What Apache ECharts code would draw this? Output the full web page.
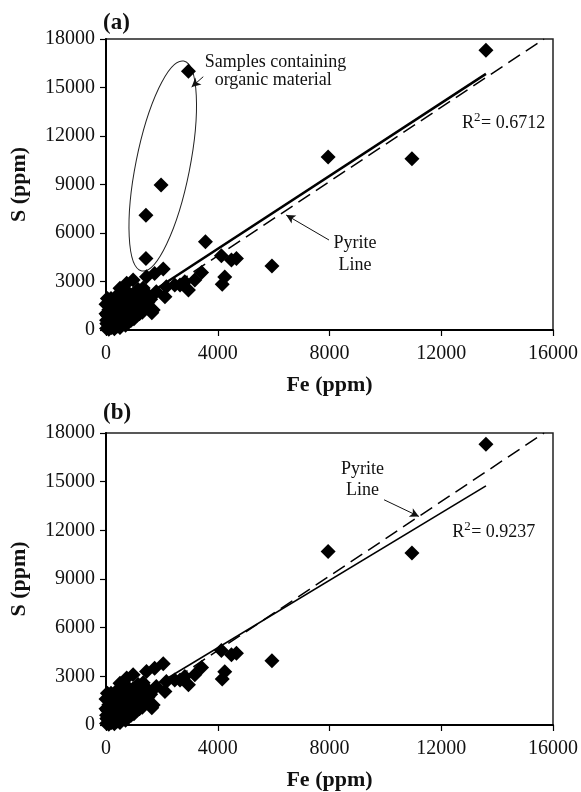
<!DOCTYPE html>
<html><head><meta charset="utf-8">
<script src="https://cdn.jsdelivr.net/npm/echarts/dist/echarts.min.js"></script>
<style>html,body{margin:0;padding:0;background:#fff}#c{width:581px;height:792px}</style>
</head><body><div id="c"></div><script>
// ---------- data (Fe ppm, S ppm) ----------
const mainPoints = [
  [13600,17300],[7950,10700],[10950,10600],[5940,3960],
  [4130,4600],[4490,4330],[4670,4420],[4250,3280],[4160,2830],
  [3420,3550],[3180,3100],[2950,2480],[2820,2990],[2650,2780],[2460,2780],[2160,2680],[2110,2060],
  [2050,3780],[1740,3500],[1450,3300],[1640,1070],[1800,2370],[1450,2270],[1690,1240],[1330,1240],
  [1090,1650],[970,3090],[740,2890],[500,2580],[860,1860],[680,1440],[1330,2600],
  [20,100],[60,350],[100,650],[150,200],[200,900],[250,450],[300,1200],[350,250],[400,750],
  [450,1050],[500,400],[550,850],[600,1300],[650,600],[700,1000],[750,1550],[800,800],[850,1200],
  [900,1650],[950,950],[1000,1400],[1050,1100],[1100,1950],[1150,1350],[1200,1600],[20,600],
  [50,900],[100,1250],[140,1550],[180,1950],[250,1350],[300,1650],[350,2050],[400,1450],[450,1800],
  [550,2250],[600,1900],[650,2450],[700,2150],[800,2300],[30,400],[100,50],[200,150],[300,80],
  [400,250],[500,150],[600,350],[700,300],[800,500],[900,600],[1000,700],[1100,900],[1200,1000],
  [1300,1100],[1400,1500],[1500,1700],[1600,1900],[1250,1850],[950,2200],[1150,2500],[0,1000],
  [0,1600],[50,1950]
];
const organicPoints = [[2950,16000],[1970,8970],[1430,7100],[1430,4430],[3560,5460]];
const fitLineA = [[0,515],[13600,15840]];
const fitLineB = [[0,600],[13600,14740]];
const pyriteLine = [[0,0],[15680,18000]];
const xTicks = {min:0, max:16000, interval:4000};
const yTicks = {min:0, max:18000, interval:3000};
const r2A = '0.6712', r2B = '0.9237';

// ---------- chart ----------
const FONT = "'Liberation Serif','Times New Roman',serif";
const chart = echarts.init(document.getElementById('c'), null, {renderer:'canvas'});
const grids = [
  {left:104, right:28, top:39, height:291, show:true, borderColor:'#222', borderWidth:1.5},
  {left:104, right:28, top:433, height:293, show:true, borderColor:'#222', borderWidth:1.5}
];
const plain = v => String(v);
function xAxis(i){return {gridIndex:i,type:'value',min:xTicks.min,max:xTicks.max,interval:xTicks.interval,
  name:'Fe (ppm)',nameLocation:'middle',nameGap:44,
  nameTextStyle:{fontFamily:FONT,fontWeight:'bold',fontSize:22,color:'#111'},
  axisLine:{lineStyle:{color:'#000',width:2}},axisTick:{inside:false,length:6,lineStyle:{color:'#000',width:1.2}},
  axisLabel:{fontFamily:FONT,fontSize:20,color:'#111',margin:14,formatter:plain},splitLine:{show:false}};}
function yAxis(i){return {gridIndex:i,type:'value',min:yTicks.min,max:yTicks.max,interval:yTicks.interval,
  name:'S (ppm)',nameLocation:'middle',nameGap:76,nameRotate:90,
  nameTextStyle:{fontFamily:FONT,fontWeight:'bold',fontSize:22,color:'#111'},
  axisLine:{lineStyle:{color:'#000',width:2}},axisTick:{inside:false,length:6,lineStyle:{color:'#000',width:1.2}},
  axisLabel:{fontFamily:FONT,fontSize:20,color:'#111',margin:11,formatter:plain},splitLine:{show:false}};}
const arrowLine = (a,b)=>[{coord:a},{coord:b}];
const mk = (data)=>({silent:true,symbol:['none','arrow'],symbolSize:[7,9],animation:false,
  lineStyle:{color:'#111',width:1,type:'solid'},label:{show:false},emphasis:{disabled:true},data:data});
const diamond = {symbol:'diamond',symbolSize:15,itemStyle:{color:'#000',opacity:1},silent:true,animation:false};

chart.setOption({
  animation:false,
  grid:grids,
  xAxis:[xAxis(0),xAxis(1)],
  yAxis:[yAxis(0),yAxis(1)],
  series:[
    Object.assign({type:'scatter',xAxisIndex:0,yAxisIndex:0,data:mainPoints.concat(organicPoints),
      markLine:mk([arrowLine([3481,15668],[3065,15031]),arrowLine([7982,5567],[6450,7113])])},diamond),
    {type:'line',xAxisIndex:0,yAxisIndex:0,data:fitLineA,symbol:'none',lineStyle:{color:'#000',width:2.5},silent:true},
    {type:'line',xAxisIndex:0,yAxisIndex:0,data:pyriteLine,symbol:'none',lineStyle:{color:'#000',width:1.5,type:[14,7]},silent:true},
    Object.assign({type:'scatter',xAxisIndex:1,yAxisIndex:1,data:mainPoints,
      markLine:mk([arrowLine([9953,13884],[11200,12858])])},diamond),
    {type:'line',xAxisIndex:1,yAxisIndex:1,data:fitLineB,symbol:'none',lineStyle:{color:'#000',width:1.6},silent:true},
    {type:'line',xAxisIndex:1,yAxisIndex:1,data:pyriteLine,symbol:'none',lineStyle:{color:'#000',width:1.5,type:[14,7]},silent:true}
  ]
});

const px = (g,pt)=>chart.convertToPixel({gridIndex:g},pt);
const txt = (pos,text,opts)=>({type:'text',x:pos[0],y:pos[1],silent:true,
  style:Object.assign({text:text,fontFamily:FONT,fontSize:18,fill:'#111',align:'center',verticalAlign:'middle'},opts||{})});
const r2 = (pos,val)=>[
  {type:'text',x:pos[0],y:pos[1],silent:true,style:{text:'R',fontFamily:FONT,fontSize:18,fill:'#111',align:'left',verticalAlign:'middle'}},
  {type:'text',x:pos[0]+12,y:pos[1]-6,silent:true,style:{text:'2',fontFamily:FONT,fontSize:13,fill:'#111',align:'left',verticalAlign:'middle'}},
  {type:'text',x:pos[0]+19,y:pos[1],silent:true,style:{text:'= '+val,fontFamily:FONT,fontSize:18,fill:'#111',align:'left',verticalAlign:'middle'}}
];
const ec = px(0,[2031,10144]);
chart.setOption({graphic:[
  {type:'text',left:103,top:12,silent:true,style:{text:'(a)',fontFamily:FONT,fontWeight:'bold',fontSize:23,fill:'#111'}},
  {type:'text',left:103,top:402,silent:true,style:{text:'(b)',fontFamily:FONT,fontWeight:'bold',fontSize:23,fill:'#111'}},
  {type:'ellipse',x:ec[0],y:ec[1],rotation:-0.197,silent:true,shape:{cx:0,cy:0,rx:27,ry:107},
    style:{fill:'none',stroke:'#222',lineWidth:1}},
  txt(px(0,[6065,16577]),'Samples containing'),
  txt(px(0,[5987,15464]),'organic material'),
  txt(px(0,[8909,5381]),'Pyrite'),
  txt(px(0,[8909,4021]),'Line'),
  ...r2(px(0,[12747,12786]),r2A),
  txt(px(1,[9183,15788]),'Pyrite'),
  txt(px(1,[9183,14498]),'Line'),
  ...r2(px(1,[12390,11875]),r2B)
]});
</script></body></html>
